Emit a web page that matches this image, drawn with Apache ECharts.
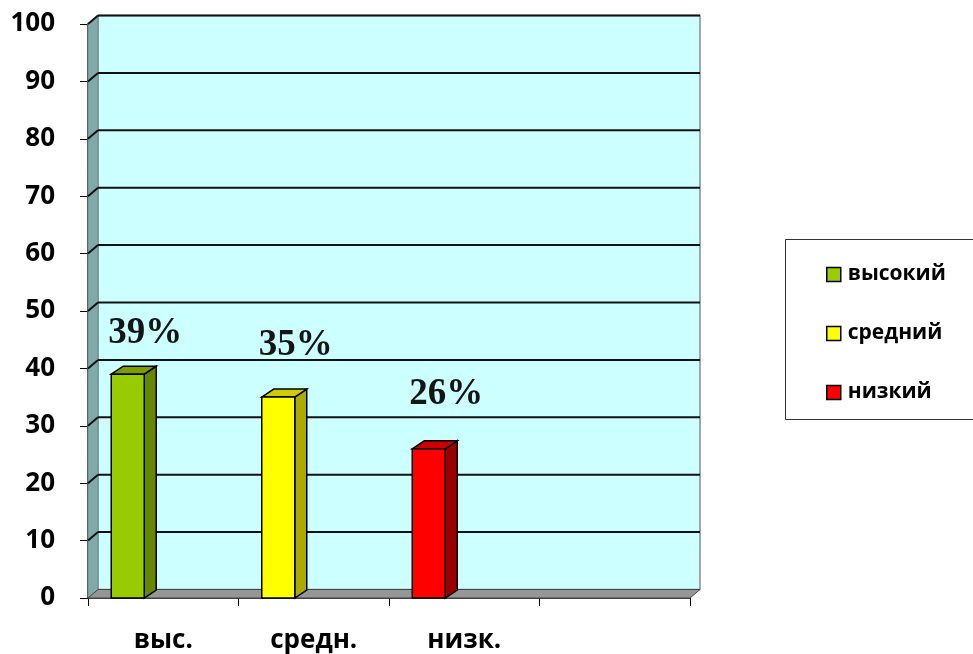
<!DOCTYPE html>
<html>
<head>
<meta charset="utf-8">
<script src="https://cdn.jsdelivr.net/npm/echarts@6/dist/echarts.min.js"></script>
<style>
html,body{margin:0;padding:0;background:#fff;}
#c{width:973px;height:654px;}
</style>
</head>
<body>
<div id="c"></div>
<script>
// ---- data ----
var categories = ['выс.', 'средн.', 'низк.', ''];
var seriesNames = ['высокий', 'средний', 'низкий'];
var values = [39, 35, 26];
var valueLabels = ['39%', '35%', '26%'];
var yTickValues = [10, 20, 30, 40, 50, 60, 70, 80, 90, 100];

// ---- styles ----
var frontColors = ['#99CC00', '#FFFF00', '#FF0000'];
var topColors = ['#7A9E00', '#CCCC00', '#CC0000'];
var sideColors = ['#668800', '#AAAA00', '#990000'];
var labelLift = [30, 41, 44];
var DX = 10, DY = -8.5;
var BDX = 12, BDY = -8;
var BAR_W = 33, BAR_SHIFT = -52;

var chart = echarts.init(document.getElementById('c'));

function wallsItem(params, api) {
  var cs = params.coordSys;
  var x0 = cs.x, y0 = cs.y, x1 = cs.x + cs.width, y1 = cs.y + cs.height;
  return {
    type: 'group',
    children: [
      { type: 'polygon', shape: { points: [[x0 + DX, y0 + DY], [x1 + DX, y0 + DY], [x1 + DX, y1 + DY], [x0 + DX, y1 + DY]] },
        style: { fill: '#CCFFFF', stroke: '#8a8a8a', lineWidth: 1.5 } },
      { type: 'polygon', shape: { points: [[x0, y1], [x0, y0], [x0 + DX, y0 + DY], [x0 + DX, y1 + DY]] },
        style: { fill: '#82A9A9', stroke: '#6a8c8c', lineWidth: 1 } },
      { type: 'polygon', shape: { points: [[x0, y1], [x1, y1], [x1 + DX, y1 + DY], [x0 + DX, y1 + DY]] },
        style: { fill: '#969696', stroke: '#444', lineWidth: 1 } }
    ]
  };
}

function gridItem(params, api) {
  var cs = params.coordSys;
  var x0 = cs.x, x1 = cs.x + cs.width;
  var y = api.coord([0, api.value(1)])[1];
  return {
    type: 'group',
    children: [
      { type: 'line', shape: { x1: x0, y1: y, x2: x0 + DX, y2: y + DY }, style: { stroke: '#111', lineWidth: 2 } },
      { type: 'line', shape: { x1: x0 + DX, y1: y + DY, x2: x1 + DX, y2: y + DY }, style: { stroke: '#111', lineWidth: 2 } }
    ]
  };
}

function barItemFactory(si) {
  return function (params, api) {
    var c = api.value(0);
    var base = api.coord([c, 0]);
    var top = api.coord([c, api.value(1)]);
    var xl = base[0] + BAR_SHIFT, xr = xl + BAR_W;
    var yt = top[1], yb = base[1];
    return {
      type: 'group',
      children: [
        { type: 'polygon', shape: { points: [[xr, yt], [xr + BDX, yt + BDY], [xr + BDX, yb + BDY], [xr, yb]] },
          style: { fill: sideColors[si], stroke: '#000', lineWidth: 1.5 } },
        { type: 'polygon', shape: { points: [[xl, yt], [xl + BDX, yt + BDY], [xr + BDX, yt + BDY], [xr, yt]] },
          style: { fill: topColors[si], stroke: '#000', lineWidth: 1.5 } },
        { type: 'rect', shape: { x: xl, y: yt, width: BAR_W, height: yb - yt },
          style: { fill: frontColors[si], stroke: '#000', lineWidth: 1.5 } },
        { type: 'text', x: xl - 3, y: yt - labelLift[si] + 8,
          style: { text: valueLabels[si], fill: '#151515', font: 'bold 37px "Liberation Serif", serif',
                   align: 'left', verticalAlign: 'bottom' } }
      ]
    };
  };
}

var series = [
  { type: 'custom', name: '_walls', z: 1, silent: true, clip: false, renderItem: wallsItem, data: [[0, 0]] },
  { type: 'custom', name: '_grid', z: 2, silent: true, clip: false, renderItem: gridItem,
    data: yTickValues.map(function (v) { return [0, v]; }) }
];
seriesNames.forEach(function (n, i) {
  series.push({
    type: 'custom', name: n, z: 3, clip: false,
    itemStyle: { color: frontColors[i] },
    renderItem: barItemFactory(i),
    data: [[i, values[i]]]
  });
});

var axisFont = { fontFamily: '"Open Sans", sans-serif', fontWeight: 'bold', fontSize: 26, color: '#000' };

chart.setOption({
  animation: false,
  grid: { left: 88, right: 283, top: 24, bottom: 54 },
  xAxis: {
    type: 'category', data: categories, boundaryGap: true,
    axisLine: { show: true, lineStyle: { color: '#000', width: 1.5 } },
    axisTick: { show: true, length: 8, interval: 0, lineStyle: { color: '#000', width: 1 } },
    axisLabel: Object.assign({ margin: 30, interval: 0 }, axisFont),
    splitLine: { show: false }
  },
  yAxis: {
    type: 'value', min: 0, max: 100, interval: 10,
    axisLine: { show: true, lineStyle: { color: '#000', width: 1.5 } },
    axisTick: { show: true, length: 8, lineStyle: { color: '#000', width: 1 } },
    axisLabel: Object.assign({ margin: 33 }, axisFont),
    splitLine: { show: false }
  },
  legend: {
    data: seriesNames,
    orient: 'vertical', left: 821, top: 259,
    icon: 'rect', itemWidth: 14, itemHeight: 14, itemGap: 38,
    itemStyle: { borderColor: '#000', borderWidth: 1.5 },
    textStyle: { fontFamily: '"Open Sans", sans-serif', fontWeight: 'bold', fontSize: 21, color: '#000', lineHeight: 20, padding: [0, 0, 0, 2] },
    selectedMode: false
  },
  graphic: [
    { type: 'rect', left: 783, top: 237, shape: { width: 189, height: 180 },
      style: { fill: 'none', stroke: '#333', lineWidth: 1 }, z: 0 }
  ],
  series: series
});
</script>
</body>
</html>
